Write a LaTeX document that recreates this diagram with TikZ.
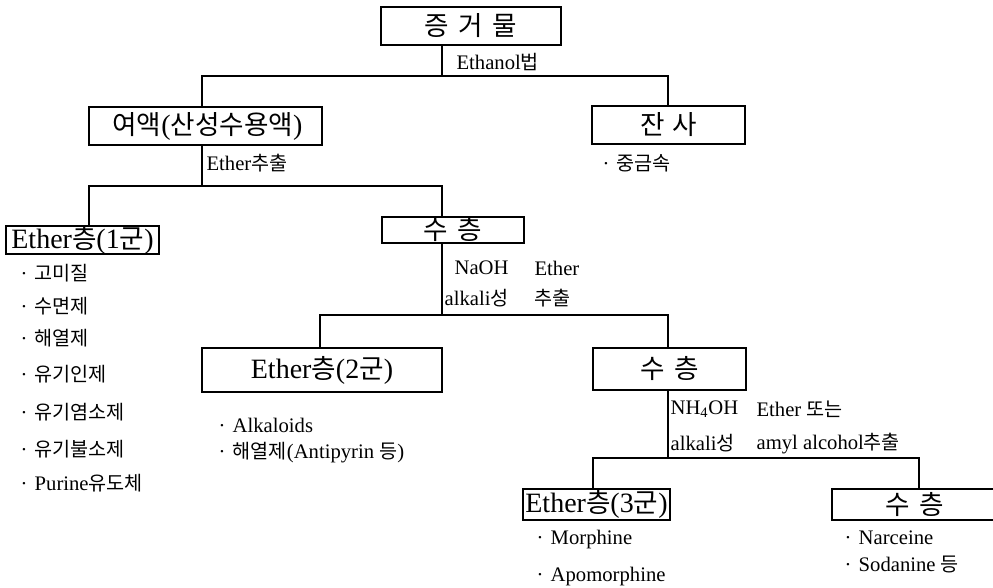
\documentclass[tikz,border=0pt]{standalone}
\usepackage{fontspec}
\setmainfont{Liberation Serif}
\newfontfamily\kr{Noto Sans CJK KR}[Scale=0.95]
\usepackage{tikz}

\tikzset{
  stage/.style 2 args={draw, inner sep=0pt, minimum width=#1*0.75pt, minimum height=#2*0.75pt, font=\fontsize{21}{23}\selectfont},
  note/.style={anchor=west, inner sep=0.75pt, font=\fontsize{15.5}{17}\selectfont},
}

\begin{document}
\begin{tikzpicture}[x=0.75pt,y=0.75pt,yscale=-1,xscale=1,line width=0.9pt]
        \path[use as bounding box] (0,0) rectangle (993,588);
        \clip (0,0) rectangle (993,588);

        % boxes
        \node[stage={180}{38}] (top) at (471,26) {\kr 증\hspace{0.35em}거\hspace{0.35em}물};
        \node[stage={233}{38}] (yeoaek) at (205.5,126) {\hspace{3pt}{\kr 여액}({\kr 산성수용액})};
        \node[stage={153}{38}] (jansa) at (668.5,125) {\kr 잔\hspace{0.3em}사};
        \node[stage={153}{26}] (ether1) at (82.5,240) {Ether{\kr 층}(1{\kr 군})};
        \node[stage={142}{26}] (su1) at (453,230) {\kr 수\hspace{0.35em}층};
        \node[stage={240}{44}] (ether2) at (322,370) {Ether{\kr 층}(2{\kr 군})};
        \node[stage={153}{42}] (su2) at (669.5,369) {\kr 수\hspace{0.35em}층};
        \node[stage={147}{31}] (ether3) at (596.5,504.5) {Ether{\kr 층}(3{\kr 군})};
        \node[stage={166}{31}] (su3) at (915,504.5) {\kr 수\hspace{0.35em}층};

        % branch points
        \coordinate (j1) at (442,76);
        \coordinate (j1l) at (202,76);
        \coordinate (j1r) at (668,76);
        \coordinate (j2) at (202,186);
        \coordinate (j2l) at (89,186);
        \coordinate (j2r) at (442,186);
        \coordinate (j3) at (442,315);
        \coordinate (j3l) at (320,315);
        \coordinate (j3r) at (668,315);
        \coordinate (j4) at (668,458);
        \coordinate (j4l) at (593,458);
        \coordinate (j4r) at (919,458);

        \draw (j1 |- top.south) -- (j1);
        \draw (j1l |- yeoaek.north) -- (j1l) -- (j1r) -- (j1r |- jansa.north);
        \draw (j2 |- yeoaek.south) -- (j2);
        \draw (j2l |- ether1.north) -- (j2l) -- (j2r) -- (j2r |- su1.north);
        \draw (j3 |- su1.south) -- (j3);
        \draw (j3l |- ether2.north) -- (j3l) -- (j3r) -- (j3r |- su2.north);
        \draw (j4 |- su2.south) -- (j4);
        \draw (j4l |- ether3.north) -- (j4l) -- (j4r) -- (j4r |- su3.north);

        % step labels
        \node[note] (ethanol) at (455,62) {Ethanol{\kr 법}};
        \node[note] (etherext) at (205,163) {Ether{\kr 추출}};
        \node[note] (naoh) at (453,268) {NaOH};
        \node[note] (ethera) at (533,268) {Ether};
        \node[note] (alkalia) at (443,298) {alkali{\kr 성}};
        \node[note] (exta) at (533,298) {\kr 추출};
        \node[note] (nhoh) at (669,409) {NH\textsubscript{4}OH};
        \node[note] (etherb) at (755,409) {Ether {\kr 또는}};
        \node[note] (alkalib) at (669,443) {alkali{\kr 성}};
        \node[note] (amyl) at (755,444) {amyl alcohol{\kr 추출}};

        % contents
        \node[note] (metal) at (601,163) {·\hspace{0.35em}{\kr 중금속}};
        \node[note] (bitter) at (19,273) {·\hspace{0.35em}{\kr 고미질}};
        \node[note] (sleep) at (19,306) {·\hspace{0.35em}{\kr 수면제}};
        \node[note] (fever) at (19,338) {·\hspace{0.35em}{\kr 해열제}};
        \node[note] (phos) at (19,374) {·\hspace{0.35em}{\kr 유기인제}};
        \node[note] (chlor) at (19,412) {·\hspace{0.35em}{\kr 유기염소제}};
        \node[note] (fluor) at (19,449) {·\hspace{0.35em}{\kr 유기불소제}};
        \node[note] (purine) at (19,483) {·\hspace{0.35em}Purine{\kr 유도체}};
        \node[note] (alkaloids) at (217,425) {·\hspace{0.35em}Alkaloids};
        \node[note] (antipyrin) at (217,453) {·\hspace{0.35em}{\kr 해열제}(Antipyrin {\kr 등})};
        \node[note] (morphine) at (535,540) {·\hspace{0.35em}Morphine};
        \node[note] (apomorph) at (535,577) {·\hspace{0.35em}Apomorphine};
        \node[note] (narceine) at (843,538) {·\hspace{0.35em}Narceine};
        \node[note] (sodanine) at (843,564) {·\hspace{0.35em}Sodanine {\kr 등}};

\end{tikzpicture}
\end{document}
